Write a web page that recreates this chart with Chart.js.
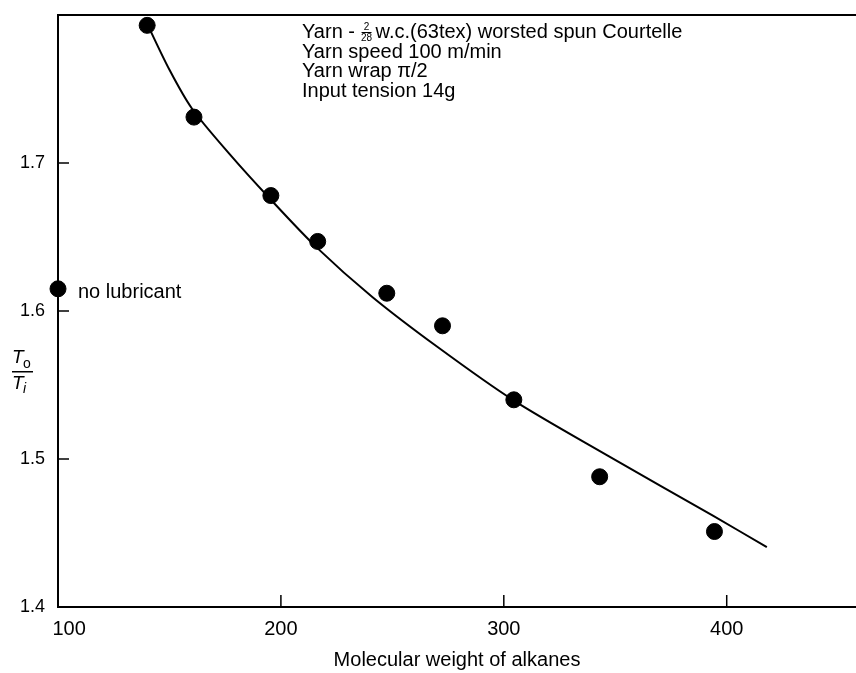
<!DOCTYPE html>
<html>
<head>
<meta charset="utf-8">
<script src="https://cdn.jsdelivr.net/npm/chart.js@4/dist/chart.umd.min.js"></script>
<style>
  body { margin: 0; background: #fff; }
</style>
</head>
<body>
<canvas id="friction" width="856" height="673"></canvas>
<script>
// measured tension ratio T_o/T_i against molecular weight of the alkane lubricant
const alkaneMW = [140, 161, 195.5, 216.5, 247.5, 272.5, 304.5, 343, 394.5];
const tensionRatio = [1.793, 1.731, 1.678, 1.647, 1.612, 1.590, 1.540, 1.488, 1.451];

// dry yarn, no lubricant
const dryMW = [100];
const dryRatio = [1.615];

// smooth curve drawn through the points
const curveMW = [140, 150, 160, 177, 195, 216, 241, 270, 304, 347, 394, 418];
const curveRatio = [1.794, 1.763, 1.737, 1.706, 1.676, 1.643, 1.6095, 1.576, 1.540, 1.502, 1.4615, 1.4405];

const xTicks = [100, 200, 300, 400];
const yTicks = [1.4, 1.5, 1.6, 1.7];

const notes = [
  'Yarn speed 100 m/min',
  'Yarn wrap \u03c0/2',
  'Input tension 14g'
];

const FONT = "'Liberation Sans', Arial, sans-serif";

function toPoints(xs, ys) {
  return xs.map((x, i) => ({ x: x, y: ys[i] }));
}

// frame, inward ticks and text labels
const decorations = {
  id: 'decorations',
  afterDraw(chart) {
    const ctx = chart.ctx;
    const area = chart.chartArea;
    const xs = chart.scales.x, ys = chart.scales.y;
    ctx.save();
    ctx.strokeStyle = '#000';
    ctx.lineWidth = 2;

    // top border
    ctx.beginPath();
    ctx.moveTo(area.left, area.top);
    ctx.lineTo(area.right, area.top);
    ctx.stroke();

    // ticks pointing into the plot
    ctx.lineWidth = 1.5;
    xTicks.forEach(v => {
      if (v === xs.min) return;
      const px = xs.getPixelForValue(v);
      ctx.beginPath();
      ctx.moveTo(px, area.bottom);
      ctx.lineTo(px, area.bottom - 12);
      ctx.stroke();
    });
    yTicks.forEach(v => {
      if (v === ys.min) return;
      const py = ys.getPixelForValue(v);
      ctx.beginPath();
      ctx.moveTo(area.left, py);
      ctx.lineTo(area.left + 11, py);
      ctx.stroke();
    });

    ctx.fillStyle = '#000';
    ctx.textBaseline = 'middle';

    // y axis title: T_o over T_i
    ctx.font = 'italic 19px ' + FONT;
    ctx.textAlign = 'left';
    ctx.fillText('T', 12, 358);
    ctx.font = '14px ' + FONT;
    ctx.fillText('o', 23, 364);
    ctx.fillRect(12, 371, 21, 1.5);
    ctx.font = 'italic 19px ' + FONT;
    ctx.fillText('T', 12, 384);
    ctx.font = 'italic 14px ' + FONT;
    ctx.fillText('i', 23, 389);

    // point label
    ctx.font = '20px ' + FONT;
    ctx.fillText('no lubricant', 78, 292);

    // test conditions
    let x = 302;
    ctx.font = '20px ' + FONT;
    ctx.fillText('Yarn - ', x, 32);
    x += ctx.measureText('Yarn - ').width;
    ctx.font = '10px ' + FONT;
    ctx.textAlign = 'center';
    ctx.fillText('2', x + 6, 27);
    ctx.fillText('28', x + 6, 38);
    ctx.fillRect(x + 1, 32, 10, 1);
    ctx.textAlign = 'left';
    ctx.font = '20px ' + FONT;
    ctx.fillText('w.c.(63tex) worsted spun Courtelle', x + 15, 32);
    notes.forEach((t, i) => ctx.fillText(t, 302, 52 + i * 19.5));

    ctx.restore();
  }
};

new Chart(document.getElementById('friction'), {
  type: 'scatter',
  data: {
    datasets: [
      {
        type: 'line',
        data: toPoints(curveMW, curveRatio),
        borderColor: '#000',
        borderWidth: 2,
        pointRadius: 0,
        tension: 0.3,
        fill: false
      },
      {
        data: toPoints(alkaneMW, tensionRatio),
        backgroundColor: '#000',
        borderColor: '#000',
        pointRadius: 8,
        pointHoverRadius: 8
      },
      {
        data: toPoints(dryMW, dryRatio),
        backgroundColor: '#000',
        borderColor: '#000',
        pointRadius: 8,
        pointHoverRadius: 8,
        clip: false
      }
    ]
  },
  options: {
    responsive: false,
    animation: false,
    layout: { autoPadding: false, padding: { top: 15, right: 0, left: 0, bottom: 0 } },
    plugins: {
      legend: { display: false },
      tooltip: { enabled: false }
    },
    scales: {
      x: {
        type: 'linear',
        min: 100,
        max: 458,
        afterBuildTicks: s => { s.ticks = xTicks.map(v => ({ value: v })); },
        afterFit: s => {
          s.height = 66;
          s.paddingLeft = 0;
          s.paddingRight = 0;
        },
        border: { display: true, color: '#000', width: 2 },
        grid: { drawOnChartArea: false, drawTicks: false },
        ticks: {
          color: '#000',
          padding: 10,
          font: { family: FONT, size: 20 },
          maxRotation: 0,
          // first label sits just right of the corner
          callback: v => v === 100 ? '\u2007\u2007100' : String(v)
        },
        title: {
          display: true,
          text: 'Molecular weight of alkanes',
          color: '#000',
          font: { family: FONT, size: 20 },
          padding: { top: 0, bottom: 1 }
        }
      },
      y: {
        min: 1.4,
        max: 1.8,
        afterBuildTicks: s => { s.ticks = yTicks.map(v => ({ value: v })); },
        afterFit: s => {
          s.width = 58;
          s.paddingTop = 0;
          s.paddingBottom = 0;
        },
        border: { display: true, color: '#000', width: 2 },
        grid: { drawOnChartArea: false, drawTicks: false },
        ticks: {
          color: '#000',
          padding: 13,
          font: { family: FONT, size: 18 },
          callback: v => v.toFixed(1)
        }
      }
    }
  },
  plugins: [decorations]
});
</script>
</body>
</html>
